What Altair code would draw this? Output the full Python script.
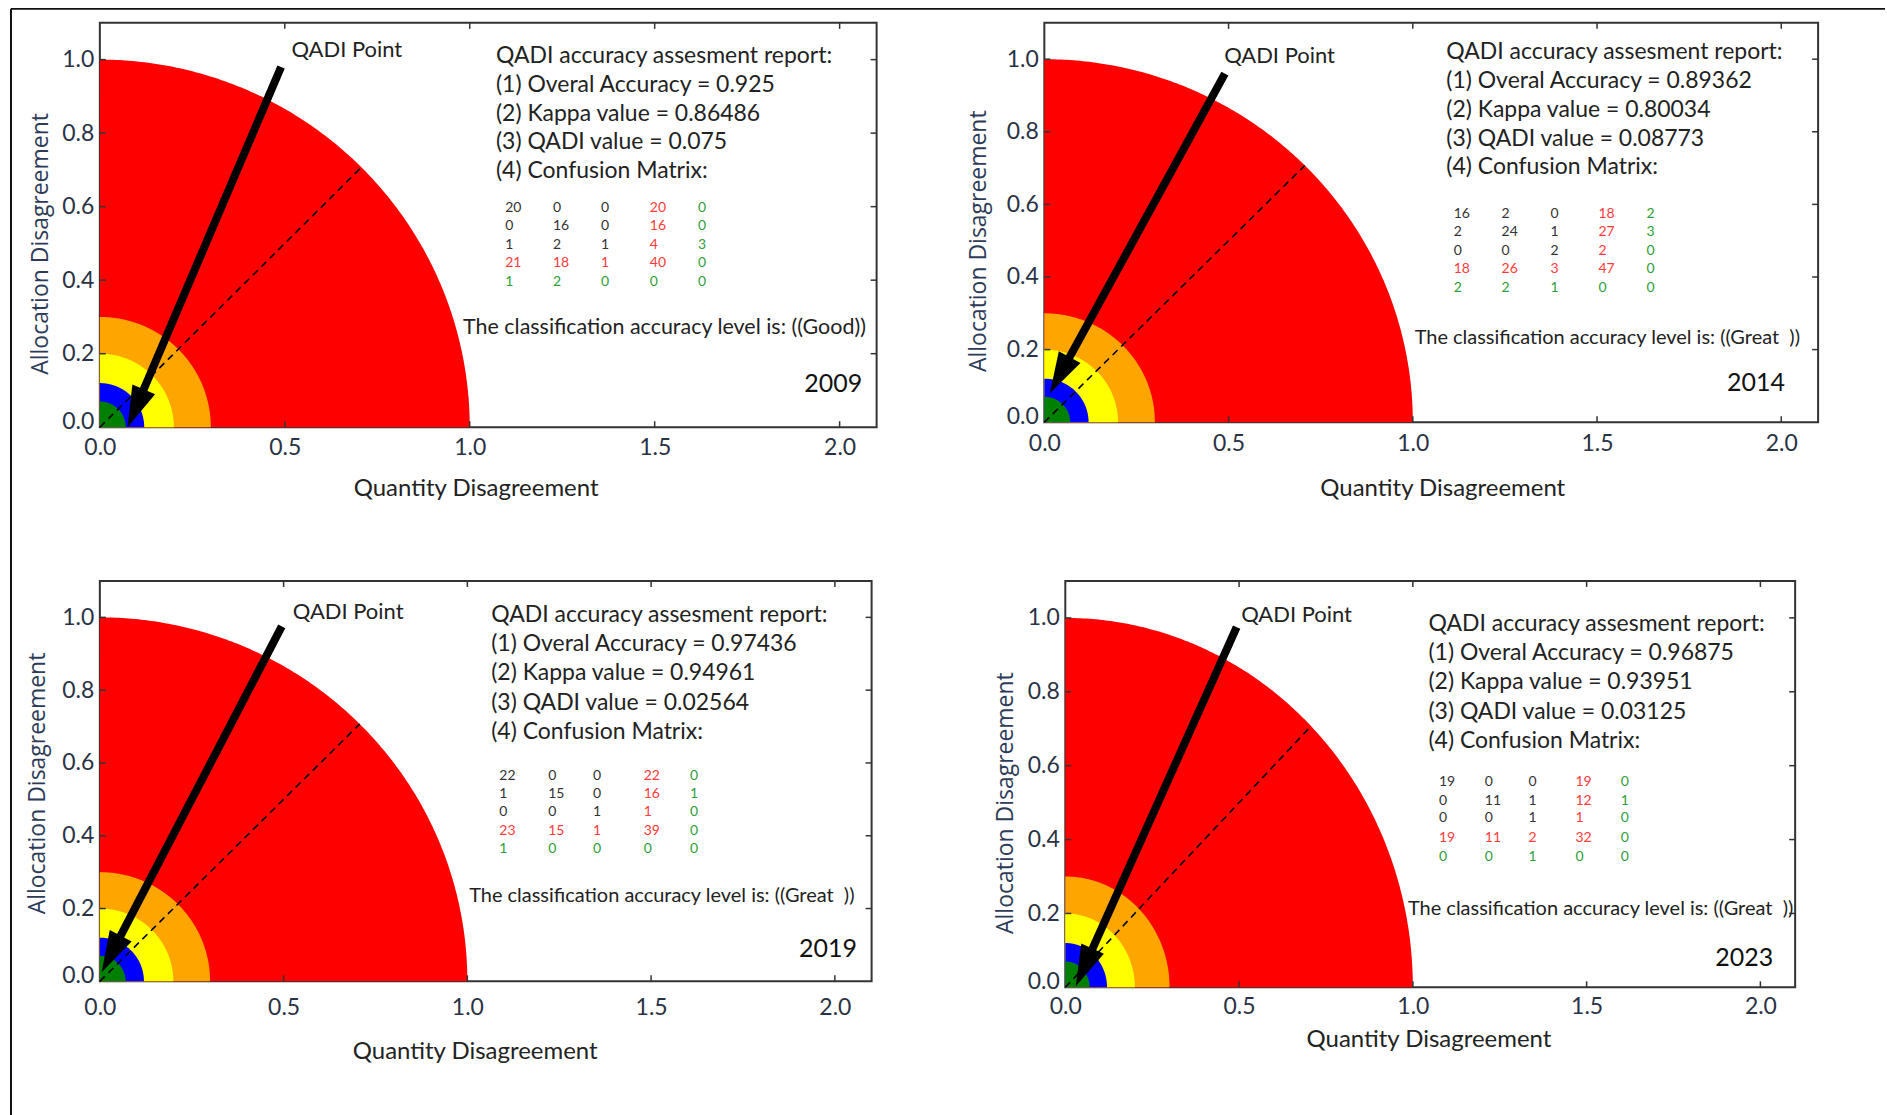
import math
import numpy as np
import pandas as pd
import altair as alt

# ---------------- data ----------------
years = ["2009", "2014", "2019", "2023"]
overall_accuracy = ["0.925", "0.89362", "0.97436", "0.96875"]
kappa_values = ["0.86486", "0.80034", "0.94961", "0.93951"]
qadi_values = ["0.075", "0.08773", "0.02564", "0.03125"]
accuracy_levels = ["((Good))", "((Great\u00a0\u00a0))", "((Great\u00a0\u00a0))", "((Great\u00a0\u00a0))"]

matrix_2009 = [[20, 0, 0, 20, 0], [0, 16, 0, 16, 0], [1, 2, 1, 4, 3], [21, 18, 1, 40, 0], [1, 2, 0, 0, 0]]
matrix_2014 = [[16, 2, 0, 18, 2], [2, 24, 1, 27, 3], [0, 0, 2, 2, 0], [18, 26, 3, 47, 0], [2, 2, 1, 0, 0]]
matrix_2019 = [[22, 0, 0, 22, 0], [1, 15, 0, 16, 1], [0, 0, 1, 1, 0], [23, 15, 1, 39, 0], [1, 0, 0, 0, 0]]
matrix_2023 = [[19, 0, 0, 19, 0], [0, 11, 1, 12, 1], [0, 0, 1, 1, 0], [19, 11, 2, 32, 0], [0, 0, 1, 0, 0]]
matrices = [matrix_2009, matrix_2014, matrix_2019, matrix_2023]

# QADI point (arrow tip) and the arrow's tail near the "QADI Point" label
qadi_point_x = [0.075, 0.015, 0.005, 0.03]
qadi_point_y = [0.0, 0.08, 0.025, 0.003]
arrow_tail_x = [0.49, 0.49, 0.495, 0.493]
arrow_tail_y = [0.98, 0.96, 0.975, 0.975]

ring_radii = [1.0, 0.3, 0.2, 0.12, 0.07]
ring_colors = ["#ff0000", "#ffa500", "#ffff00", "#0000ff", "#008000"]

x_ticks = [0.0, 0.5, 1.0, 1.5, 2.0]
y_ticks = [0.0, 0.2, 0.4, 0.6, 0.8, 1.0]
X_MAX, Y_MAX = 2.1, 1.1

# ---------------- layout (positions / sizes) ----------------
FONT = "Lato"
LAYOUT = [
    dict(w=778, h=405, tyc=0.50, txc=1.016, ytp=9, xtp=17, xlp=9, cfs=21.5,
         qp=(0.518, 1.027), rep_x=1.071, rep_y=[1.010, 0.931, 0.853, 0.775, 0.696],
         mat_x=[1.096, 1.225, 1.355, 1.487, 1.617], mat_y=[0.595, 0.546, 0.497, 0.446, 0.394],
         cls=(0.982, 0.269), yr=(2.061, 0.117)),
    dict(w=775, h=400, tyc=0.50, txc=1.08, ytp=16, xtp=21, xlp=10, cfs=20,
         qp=(0.488, 1.01), rep_x=1.091, rep_y=[1.02, 0.94, 0.861, 0.781, 0.702],
         mat_x=[1.111, 1.241, 1.374, 1.504, 1.634], mat_y=[0.573, 0.523, 0.471, 0.421, 0.369],
         cls=(1.005, 0.231), yr=(2.01, 0.107)),
    dict(w=773, h=401, tyc=0.545, txc=1.02, ytp=12, xtp=20, xlp=15, cfs=20,
         qp=(0.525, 1.016), rep_x=1.065, rep_y=[1.007, 0.927, 0.848, 0.766, 0.686],
         mat_x=[1.087, 1.22, 1.342, 1.48, 1.606], mat_y=[0.563, 0.514, 0.464, 0.412, 0.363],
         cls=(1.005, 0.234), yr=(2.06, 0.09)),
    dict(w=731, h=407, tyc=0.50, txc=1.045, ytp=10, xtp=9, xlp=8, cfs=20,
         qp=(0.506, 1.008), rep_x=1.045, rep_y=[0.984, 0.906, 0.827, 0.746, 0.668],
         mat_x=[1.075, 1.207, 1.333, 1.468, 1.598], mat_y=[0.557, 0.505, 0.457, 0.405, 0.354],
         cls=(0.986, 0.211), yr=(2.037, 0.078)),
]
HEAD_PATH = "M0,0 L-0.6,2 L0.6,2 Z"
C_BLACK, C_RED, C_GREEN = "#333333", "#ff3b3b", "#2e9e3a"


def cell_color(r, c):
    if r < 3 and c < 3:
        return C_BLACK
    if r == 4 or c == 4:
        return C_GREEN
    return C_RED


def build_panel(i):
    L = LAYOUT[i]
    W, H = L["w"], L["h"]
    xs = alt.Scale(domain=[0, X_MAX], nice=False, zero=False)
    ys = alt.Scale(domain=[0, Y_MAX], nice=False, zero=False)
    xaxis = alt.Axis(values=x_ticks, format=".1f", title="Quantity Disagreement", grid=False,
                     domain=False, ticks=False, labelFont=FONT, labelFontSize=23,
                     labelColor="#2a3245", labelPadding=L["xlp"], labelFlush=False,
                     titleFont=FONT, titleFontSize=24, titleFontWeight="normal",
                     titleColor="#222222", titlePadding=L["xtp"],
                     titleX=W * L["txc"] / X_MAX)
    yaxis = alt.Axis(values=y_ticks, format=".1f", title="Allocation Disagreement", grid=False,
                     domain=False, ticks=False, labelFont=FONT, labelFontSize=23,
                     labelColor="#2a3245", labelPadding=6, labelFlush=True, labelFlushOffset=6,
                     titleFont="Open Sans", titleFontSize=23, titleFontWeight="normal",
                     titleColor="#2d3b59", titlePadding=L["ytp"],
                     titleY=H * (1 - L["tyc"] / Y_MAX))
    X = alt.X("x:Q", scale=xs, axis=xaxis)
    Y = alt.Y("y:Q", scale=ys, axis=yaxis)

    layers = []
    # quarter discs
    t = np.linspace(0, np.pi / 2, 181)
    for r, c in zip(ring_radii, ring_colors):
        d = pd.DataFrame({"x": r * np.cos(t), "y": r * np.sin(t)})
        layers.append(alt.Chart(d).mark_area(color=c, opacity=1).encode(x=X, y=Y))

    # dashed 45 degree line
    rr = ring_radii[0]
    dd = pd.DataFrame({"x": [0.0], "y": [0.0], "x2": [rr * math.cos(math.pi / 4)],
                       "y2": [rr * math.sin(math.pi / 4)]})
    layers.append(alt.Chart(dd).mark_rule(color="black", strokeWidth=1.6, strokeDash=[7, 5]).encode(
        x=X, y=Y, x2="x2:Q", y2="y2:Q"))

    # arrow
    tx, ty = qadi_point_x[i], qadi_point_y[i]
    sx, sy = arrow_tail_x[i], arrow_tail_y[i]
    kx, ky = W / X_MAX, H / Y_MAX
    dxp = (tx - sx) * kx
    dyp = -(ty - sy) * ky
    lp = math.hypot(dxp, dyp)
    ang = math.degrees(math.atan2(dxp, -dyp)) % 360
    back = 28.0 / lp
    ex, ey = tx + (sx - tx) * back, ty + (sy - ty) * back
    ad = pd.DataFrame({"x": [sx], "y": [sy], "x2": [ex], "y2": [ey]})
    layers.append(alt.Chart(ad).mark_rule(color="black", strokeWidth=8, strokeCap="butt").encode(
        x=X, y=Y, x2="x2:Q", y2="y2:Q"))
    hd = pd.DataFrame({"x": [tx], "y": [ty]})
    layers.append(alt.Chart(hd).mark_point(shape=HEAD_PATH, size=1700, filled=True, color="black",
                                           opacity=1, strokeWidth=0, angle=ang).encode(x=X, y=Y))

    # "QADI Point" label
    qd = pd.DataFrame({"x": [L["qp"][0]], "y": [L["qp"][1]], "t": ["QADI Point"]})
    layers.append(alt.Chart(qd).mark_text(align="left", baseline="middle", font=FONT, fontSize=22,
                                          color="#222222").encode(x=X, y=Y, text="t:N"))

    # report lines
    lines = ["QADI accuracy assesment report:",
             f"(1) Overal Accuracy = {overall_accuracy[i]}",
             f"(2) Kappa value = {kappa_values[i]}",
             f"(3) QADI value = {qadi_values[i]}",
             "(4) Confusion Matrix:"]
    rd = pd.DataFrame({"x": [L["rep_x"]] * 5, "y": L["rep_y"], "t": lines})
    layers.append(alt.Chart(rd).mark_text(align="left", baseline="middle", font=FONT, fontSize=23,
                                          color="#222222").encode(x=X, y=Y, text="t:N"))

    # confusion matrix
    rows = []
    for r, row in enumerate(matrices[i]):
        for c, v in enumerate(row):
            rows.append({"x": L["mat_x"][c], "y": L["mat_y"][r], "t": str(v), "col": cell_color(r, c)})
    md = pd.DataFrame(rows)
    layers.append(alt.Chart(md).mark_text(align="left", baseline="middle", font=FONT, fontSize=14).encode(
        x=X, y=Y, text="t:N", color=alt.Color("col:N", scale=None)))

    # classification level
    cd = pd.DataFrame({"x": [L["cls"][0]], "y": [L["cls"][1]],
                       "t": ["The classification accuracy level is: " + accuracy_levels[i]]})
    layers.append(alt.Chart(cd).mark_text(align="left", baseline="middle", font=FONT, fontSize=L["cfs"],
                                          color="#222222").encode(x=X, y=Y, text="t:N"))

    # year
    yd = pd.DataFrame({"x": [L["yr"][0]], "y": [L["yr"][1]], "t": [years[i]]})
    layers.append(alt.Chart(yd).mark_text(align="right", baseline="middle", font=FONT, fontSize=25,
                                          color="#111111").encode(x=X, y=Y, text="t:N"))

    # inward ticks (matplotlib style)
    xt = pd.DataFrame({"x": x_ticks[1:]})
    yt = pd.DataFrame({"y": y_ticks[1:]})
    tk = dict(color="#333333", strokeWidth=1.5)
    layers.append(alt.Chart(xt).mark_rule(**tk).encode(x=X, y=alt.value(0), y2=alt.value(6)))
    layers.append(alt.Chart(xt).mark_rule(**tk).encode(x=X, y=alt.value(H), y2=alt.value(H - 6)))
    layers.append(alt.Chart(yt).mark_rule(**tk).encode(y=Y, x=alt.value(0), x2=alt.value(6)))
    layers.append(alt.Chart(yt).mark_rule(**tk).encode(y=Y, x=alt.value(W - 6), x2=alt.value(W)))

    if i == 0:
        fd = pd.DataFrame({"k": [0]})
        fr = dict(color="#111111", strokeWidth=2)
        layers.append(alt.Chart(fd).mark_rule(**fr).encode(
            x=alt.value(-89), x2=alt.value(1788), y=alt.value(-14)))
        layers.append(alt.Chart(fd).mark_rule(**fr).encode(
            x=alt.value(-89), y=alt.value(-14), y2=alt.value(1094)))

    return alt.layer(*layers).properties(width=W, height=H)


p = [build_panel(i) for i in range(4)]
row1 = alt.hconcat(p[0], p[1], spacing=168, bounds="flush")
row2 = alt.hconcat(p[2], p[3], spacing=194, bounds="flush")
chart = alt.vconcat(row1, row2, spacing=559, bounds="flush").properties(
    padding={"left": 9, "top": 6, "right": 0, "bottom": 0},
    background="white",
).configure_view(stroke="#333333", strokeWidth=2)

chart.save("out.html", embed_options={"renderer": "svg", "actions": False})
